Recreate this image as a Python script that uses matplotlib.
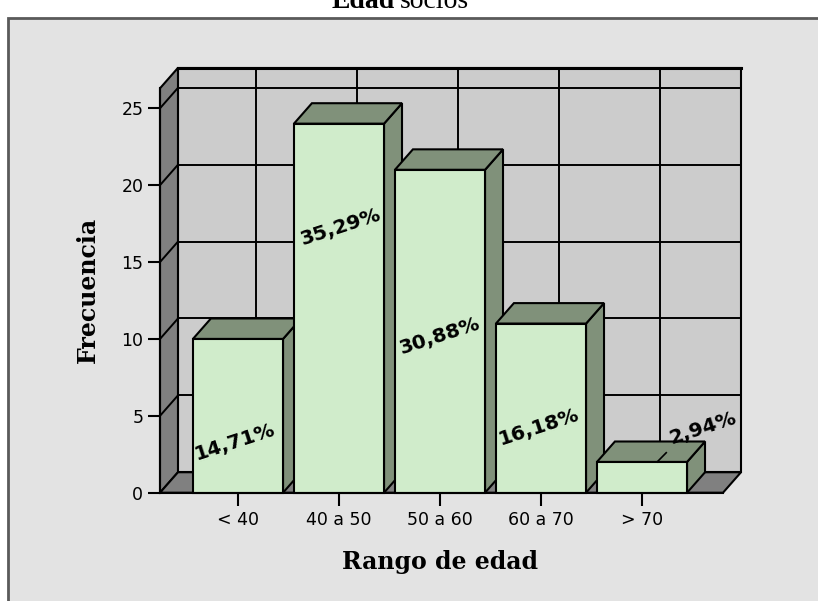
import matplotlib
matplotlib.use("Agg")
import matplotlib.pyplot as plt
from matplotlib.patches import Polygon, Rectangle

# ---- data ----
categories = ["< 40", "40 a 50", "50 a 60", "60 a 70", "> 70"]
counts = [10, 24, 21, 11, 2]
y_ticks = [0, 5, 10, 15, 20, 25]

title = "Edad socios"
x_label = "Rango de edad"
y_label = "Frecuencia"

# ---- style ----
FRONT = "#D0ECCB"
SHADE = "#80917A"
WALL = "#CCCCCC"
DARK = "#808080"
BG = "#E3E3E3"
EDGE = "black"

total = sum(counts)
pct_labels = [f"{c / total * 100:.2f}".replace(".", ",") + "%" for c in counts]

# depth of the pseudo-3D box, in data units
DX, DY = 0.178, 1.33
X0, X1 = -0.772, 4.802
TOP = 26.3
HALF = 0.446

fig = plt.figure(figsize=(8.18, 6.01), dpi=100)
fig.patch.set_facecolor("white")

# outer panel, drawn underneath everything else
panel = fig.add_axes([0, 0, 1, 1], zorder=0)
panel.set_xlim(0, 818)
panel.set_ylim(601, 0)
panel.axis("off")
panel.add_patch(Rectangle((8, 18), 830, 600, facecolor=BG,
                          edgecolor="#5a5a5a", lw=2, clip_on=False))

title_words = title.split(" ")
panel.text(395, 8, title_words[0], ha="right", va="baseline",
           family="Liberation Serif", fontweight="bold", fontsize=20)
panel.text(400, 8, title_words[1], ha="left", va="baseline",
           family="Liberation Serif", fontsize=20)

ax = fig.add_axes([160 / 818, (601 - 492.7) / 601,
                   (723 - 160) / 818, (492.7 - 88.3) / 601], zorder=2)
ax.set_xlim(X0, X1)
ax.set_ylim(0, TOP)
ax.patch.set_visible(False)
for s in ("top", "right"):
    ax.spines[s].set_visible(False)
for s in ("left", "bottom"):
    ax.spines[s].set_linewidth(1.5)
    ax.spines[s].set_zorder(6)

def poly(pts, fc, z, lw=1.5):
    ax.add_patch(Polygon(pts, closed=True, facecolor=fc, edgecolor=EDGE,
                         lw=lw, zorder=z, clip_on=False, joinstyle="miter"))

# back wall, left wall, floor
poly([(X0 + DX, DY), (X1 + DX, DY), (X1 + DX, TOP + DY), (X0 + DX, TOP + DY)], WALL, 1)
poly([(X0, 0), (X0 + DX, DY), (X0 + DX, TOP + DY), (X0, TOP)], DARK, 1)
poly([(X0, 0), (X1, 0), (X1 + DX, DY), (X0 + DX, DY)], DARK, 1)

# grid on the walls
for v in y_ticks[1:]:
    ax.plot([X0 + DX, X1 + DX], [v + DY, v + DY], color=EDGE, lw=1.4,
            zorder=2, clip_on=False)
    ax.plot([X0, X0 + DX], [v, v + DY], color=EDGE, lw=1.4,
            zorder=2, clip_on=False)
for i in range(len(categories)):
    ax.plot([i + DX, i + DX], [DY, TOP + DY], color=EDGE, lw=1.4,
            zorder=2, clip_on=False)
ax.plot([X0 + DX, X1 + DX], [TOP + DY, TOP + DY], color=EDGE, lw=2.2,
        zorder=2, clip_on=False)

# bars, left to right so each front face covers the previous side face
for i, v in enumerate(counts):
    l, r = i - HALF, i + HALF
    z = 3 + i * 0.1
    poly([(r, 0), (r + DX, DY), (r + DX, v + DY), (r, v)], SHADE, z)
    poly([(l, v), (r, v), (r + DX, v + DY), (l + DX, v + DY)], SHADE, z)
    poly([(l, 0), (r, 0), (r, v), (l, v)], FRONT, z + 0.05)

# percentage labels
label_pos = [(-0.03, 3.3), (1.02, 17.3), (2.0, 10.2), (2.98, 4.3), (4.60, 4.2)]
for i, (txt, (lx, ly)) in enumerate(zip(pct_labels, label_pos)):
    ax.text(lx, ly, txt, ha="center", va="center", rotation=18,
            fontsize=14.5, fontweight="bold", family="DejaVu Sans",
            zorder=10, clip_on=False)
# leader line for the short bar
i_last = len(counts) - 1
ax.plot([i_last + 0.15, i_last + 0.24], [counts[i_last], counts[i_last] + 0.6],
        color=EDGE, lw=1.2, zorder=10, clip_on=False)

ax.set_yticks(y_ticks)
ax.set_yticklabels([str(t) for t in y_ticks])
ax.set_xticks(range(len(categories)))
ax.set_xticklabels(categories)
ax.tick_params(axis="both", direction="out", length=9, width=1.5,
               color=EDGE, labelsize=12.5)
ax.tick_params(axis="y", pad=3)
ax.tick_params(axis="x", pad=4)
for t in ax.get_xticklabels() + ax.get_yticklabels():
    t.set_family("DejaVu Sans")

panel.text(88, 290, y_label, rotation=90, ha="center", va="center",
           family="DejaVu Serif", fontweight="bold", fontsize=17)
panel.text(440, 562, x_label, ha="center", va="center",
           family="DejaVu Serif", fontweight="bold", fontsize=17)

fig.savefig("out.png", dpi=100, facecolor=fig.get_facecolor())
